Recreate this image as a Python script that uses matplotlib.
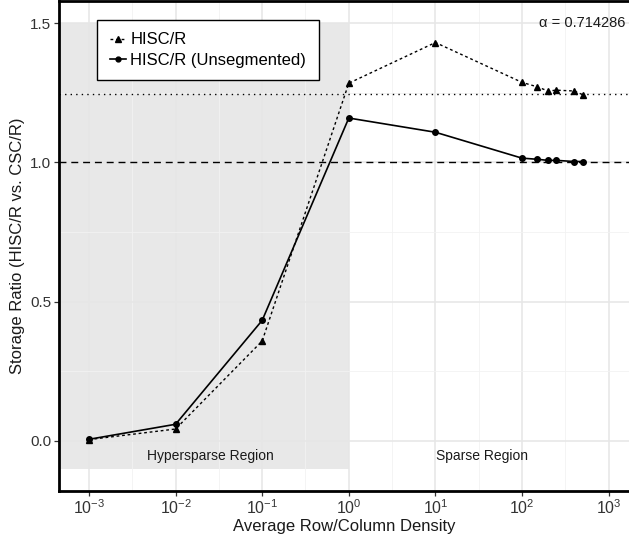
import matplotlib
matplotlib.use("Agg")
import matplotlib.pyplot as plt
from matplotlib.lines import Line2D
import numpy as np

# Data
density = [0.001, 0.01, 0.1, 1, 10, 100, 150, 200, 250, 400, 500]
hiscr = [0.005, 0.043, 0.359, 1.284, 1.430, 1.287, 1.271, 1.256, 1.259, 1.256, 1.243]
hiscr_unseg = [0.006, 0.060, 0.433, 1.159, 1.108, 1.015, 1.011, 1.007, 1.007, 1.003, 1.003]
ref_dotted = 1.245
ref_dashed = 1.0
alpha_text = "α = 0.714286"
xticks = [1e-3, 1e-2, 1e-1, 1e0, 1e1, 1e2, 1e3]
yticks = [0.0, 0.5, 1.0, 1.5]

plt.rcParams['font.family'] = ['Liberation Sans', 'DejaVu Sans']
plt.rcParams['mathtext.fontset'] = 'custom'
plt.rcParams['mathtext.rm'] = 'Liberation Sans'
plt.rcParams['mathtext.it'] = 'Liberation Sans:italic'

fig = plt.figure(figsize=(6.29, 5.44), dpi=100)
ax = fig.add_axes([59/629, 53/544, 570/629, 490/544])
ax.set_xscale('log')

# grid
ax.set_xticks(xticks)
ax.set_xticks([10**(k+0.5) for k in range(-4, 4)], minor=True)
ax.set_yticks(yticks)
ax.set_yticks([-0.25, 0.25, 0.75, 1.25], minor=True)
ax.set_xlim(10**-3.3464, 10**3.2356)
ax.set_ylim(-0.1795, 1.579)
ax.grid(which='major', color='#E6E6E6', lw=1.1, zorder=0)
ax.grid(which='minor', color='#F2F2F2', lw=0.6, zorder=0)
ax.set_axisbelow(True)
ax.tick_params(which='minor', length=0)
ax.tick_params(which='major', length=3.5, width=0.9, color='#333333',
               labelsize=11, labelcolor='#333333', pad=2)
ax.tick_params(axis='x', labelsize=11.5)
ax.set_xticklabels([r"$10^{%d}$" % int(np.log10(v)) for v in xticks])
ax.set_yticklabels(["%.1f" % v for v in yticks])

# shaded region
ax.fill_between([10**-3.5, 1.0], -0.1, 1.5, color='#D9D9D9', alpha=0.6, lw=0, zorder=0.5)

ax.axhline(ref_dotted, color='black', ls=(0, (1, 3)), lw=1.0, zorder=2)
ax.axhline(ref_dashed, color='black', ls=(0, (5, 3.5)), lw=1.0, zorder=2)

ax.plot(density, hiscr, color='black', ls=(0, (2, 2)), lw=1.0, marker='^', ms=5, zorder=3)
ax.plot(density, hiscr_unseg, color='black', ls='-', lw=1.2, marker='o', ms=4, zorder=3)

ax.text(10**-1.6, -0.053, "Hypersparse Region", ha='center', va='center', fontsize=10, color='#1A1A1A')
ax.text(10**1.54, -0.053, "Sparse Region", ha='center', va='center', fontsize=10, color='#1A1A1A')
ax.text(10**3.19, 1.5, alpha_text, ha='right', va='center', fontsize=10.5, color='#1A1A1A')

for s in ['left', 'bottom', 'top']:
    ax.spines[s].set_linewidth(2)
    ax.spines[s].set_color('black')
ax.spines['right'].set_visible(False)

ax.set_xlabel("Average Row/Column Density", fontsize=12, color='#1A1A1A', labelpad=1)
ax.set_ylabel("Storage Ratio (HISC/R vs. CSC/R)", fontsize=12, color='#1A1A1A', labelpad=4)

handles = [Line2D([], [], color='black', ls=(0, (2, 2)), lw=1.0, marker='^', ms=4),
           Line2D([], [], color='black', ls='-', lw=1.2, marker='o', ms=3.5)]
leg = ax.legend(handles, ["HISC/R", "HISC/R (Unsegmented)"], loc='upper left',
                bbox_to_anchor=((97-59)/570, 1 - 19/490), fontsize=12, frameon=True,
                fancybox=False, edgecolor='black', framealpha=1, handlelength=1.0,
                handletextpad=0.25, borderpad=0.75, labelspacing=0.3, borderaxespad=0)
leg.get_frame().set_linewidth(1.0)

fig.savefig("out.png", dpi=100)
